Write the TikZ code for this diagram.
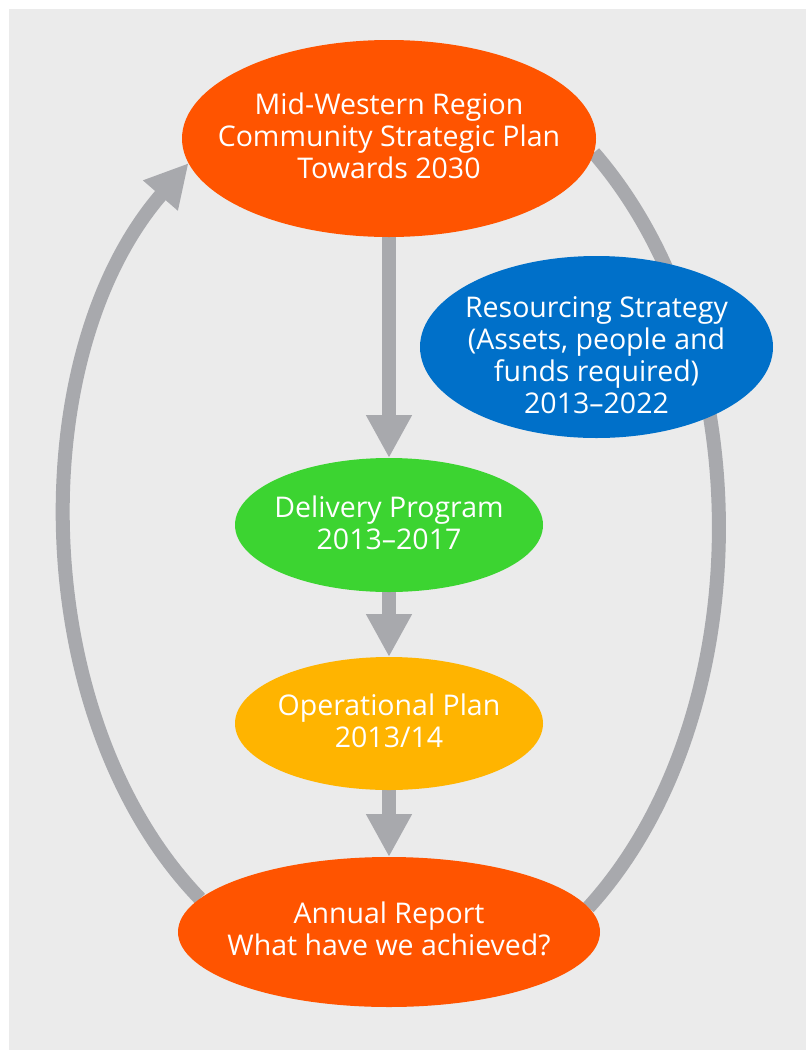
\documentclass[tikz,border=0pt]{standalone}
\usepackage{fontspec}
\setmainfont{Open Sans}
\usetikzlibrary{shapes.geometric,arrows.meta}
\definecolor{bggray}{HTML}{EBEBEB}
\definecolor{arrgray}{HTML}{A8A9AD}
\definecolor{planorange}{HTML}{FF5400}
\definecolor{resblue}{HTML}{0070C9}
\definecolor{delgreen}{HTML}{3CD431}
\definecolor{opyellow}{HTML}{FFB400}
\pgfdeclarelayer{back}
\pgfdeclarelayer{conn}
\pgfsetlayers{back,conn,main}
\tikzset{
  ell/.style={ellipse, draw=none, inner sep=0pt, outer sep=0pt},
  txt/.style={text=white, align=center, inner sep=0pt, font=\fontsize{28.5}{32}\selectfont},
  flow/.style={draw=arrgray, line width=14pt, -{Triangle[length=43pt,width=43pt]}, arrgray},
  loop/.style={draw=arrgray, line width=14pt},
}
\begin{document}
\begin{tikzpicture}[x=1pt,y=-1pt]
\useasboundingbox (0,0) rectangle (806,1050);
\begin{pgfonlayer}{back}
\fill[white] (0,0) rectangle (806,1050);
\fill[bggray] (9,9) rectangle (806,1050);
\end{pgfonlayer}

\node[ell, fill=planorange, minimum width=414pt, minimum height=197pt,
  label={[txt, yshift=3pt]center:Mid-Western Region\\Community Strategic Plan\\Towards 2030}] (top) at (389,138.5) {};
\node[ell, fill=resblue, minimum width=353pt, minimum height=182pt,
  label={[txt, yshift=-8pt]center:Resourcing Strategy\\(Assets, people and\\funds required)\\2013--2022}] (res) at (596.5,347) {};
\node[ell, fill=delgreen, minimum width=308pt, minimum height=134pt,
  label={[txt, yshift=2pt]center:Delivery Program\\2013--2017}] (del) at (389,525) {};
\node[ell, fill=opyellow, minimum width=308pt, minimum height=133pt,
  label={[txt, yshift=3pt]center:Operational Plan\\2013/14}] (op) at (389,723.5) {};
\node[ell, fill=planorange, minimum width=422pt, minimum height=150pt,
  label={[txt, yshift=3pt]center:Annual Report\\What have we achieved?}] (bot) at (389,932) {};

\begin{pgfonlayer}{conn}
\draw[flow] (top.south) -- (del.north);
\draw[flow] (del.south) -- (op.north);
\draw[flow] (op.south) -- (bot.north);
\draw[flow] (bot.170) .. controls (27,719) and (21,356) .. (top.187);
\draw[loop] (top.-4.5) .. controls (763,348) and (760,719) .. (bot.7.4);
\end{pgfonlayer}
\end{tikzpicture}
\end{document}
